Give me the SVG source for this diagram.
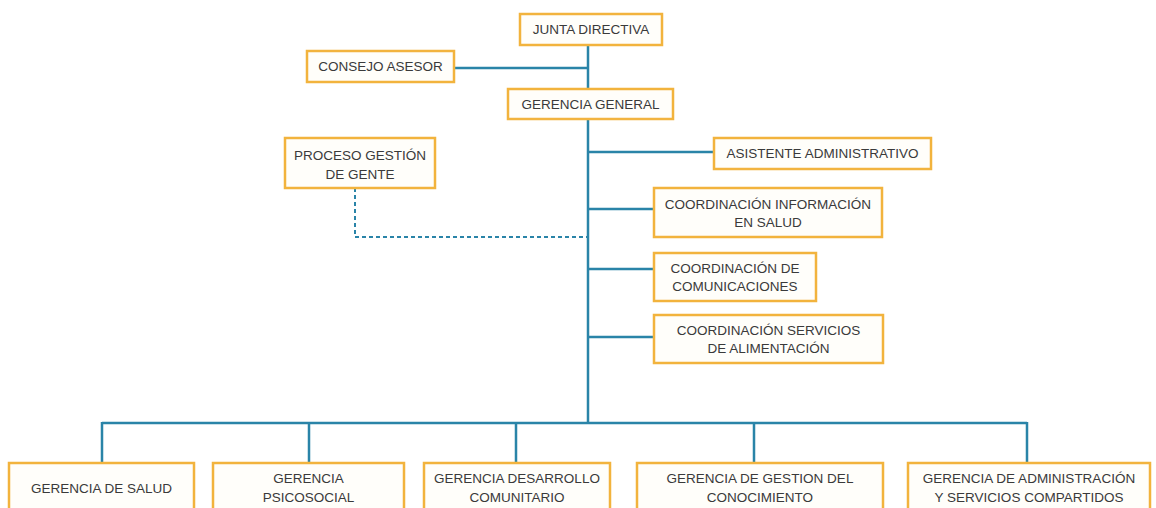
<svg xmlns="http://www.w3.org/2000/svg" width="1156" height="508" viewBox="0 0 1156 508">
<style>
.box{fill:#FFFEFA;stroke:#F2B33D;stroke-width:2.5}
.t{font-family:"Liberation Sans",Arial,sans-serif;font-size:13.5px;fill:#3a3a3a;text-anchor:middle}
.c{fill:none;stroke:#2A84A8;stroke-width:2.5}
.d{fill:none;stroke:#2A84A8;stroke-width:2;stroke-dasharray:4 3}
</style>
<rect width="1156" height="508" fill="#ffffff"/>
<g id="connectors">
<path class="c" d="M588 45V89M588 119V423M454 68H588M588 152H714M588 209H654M588 269H654M588 337H654"/>
<path class="c" d="M102 423H1027M102 422V463M309 422V463M516 422V463M754 422V463M1027 422V463"/>
<path class="d" d="M355 188V237H588"/>
</g>
<g id="junta"><rect class="box" x="520" y="14" width="142" height="31"/><text class="t" x="591" y="34">JUNTA DIRECTIVA</text></g>
<g id="consejo"><rect class="box" x="307" y="51" width="147" height="31"/><text class="t" x="380.5" y="71">CONSEJO ASESOR</text></g>
<g id="gerencia-general"><rect class="box" x="508" y="89" width="165" height="30"/><text class="t" x="590.5" y="109">GERENCIA GENERAL</text></g>
<g id="proceso"><rect class="box" x="285" y="138" width="150" height="50"/><text class="t" x="360" y="160">PROCESO GESTIÓN</text><text class="t" x="360" y="179">DE GENTE</text></g>
<g id="asistente"><rect class="box" x="714" y="138" width="217" height="31"/><text class="t" x="822.5" y="158">ASISTENTE ADMINISTRATIVO</text></g>
<g id="coord-info"><rect class="box" x="654" y="188" width="228" height="49"/><text class="t" x="768" y="208.5">COORDINACIÓN INFORMACIÓN</text><text class="t" x="768" y="226.5">EN SALUD</text></g>
<g id="coord-com"><rect class="box" x="654" y="253" width="162" height="48"/><text class="t" x="735" y="273">COORDINACIÓN DE</text><text class="t" x="735" y="291">COMUNICACIONES</text></g>
<g id="coord-alim"><rect class="box" x="654" y="315" width="229" height="48"/><text class="t" x="768.5" y="335">COORDINACIÓN SERVICIOS</text><text class="t" x="768.5" y="353">DE ALIMENTACIÓN</text></g>
<g id="g-salud"><rect class="box" x="9" y="463" width="185" height="52"/><text class="t" x="101.5" y="493">GERENCIA DE SALUD</text></g>
<g id="g-psico"><rect class="box" x="213" y="463" width="191" height="52"/><text class="t" x="308.5" y="483">GERENCIA</text><text class="t" x="308.5" y="502">PSICOSOCIAL</text></g>
<g id="g-desarrollo"><rect class="box" x="424" y="463" width="186" height="52"/><text class="t" x="517" y="483">GERENCIA DESARROLLO</text><text class="t" x="517" y="502">COMUNITARIO</text></g>
<g id="g-gestion"><rect class="box" x="637" y="463" width="246" height="52"/><text class="t" x="760" y="483">GERENCIA DE GESTION DEL</text><text class="t" x="760" y="502">CONOCIMIENTO</text></g>
<g id="g-admin"><rect class="box" x="908" y="463" width="242" height="52"/><text class="t" x="1029" y="483">GERENCIA DE ADMINISTRACIÓN</text><text class="t" x="1029" y="502">Y SERVICIOS COMPARTIDOS</text></g>
</svg>
